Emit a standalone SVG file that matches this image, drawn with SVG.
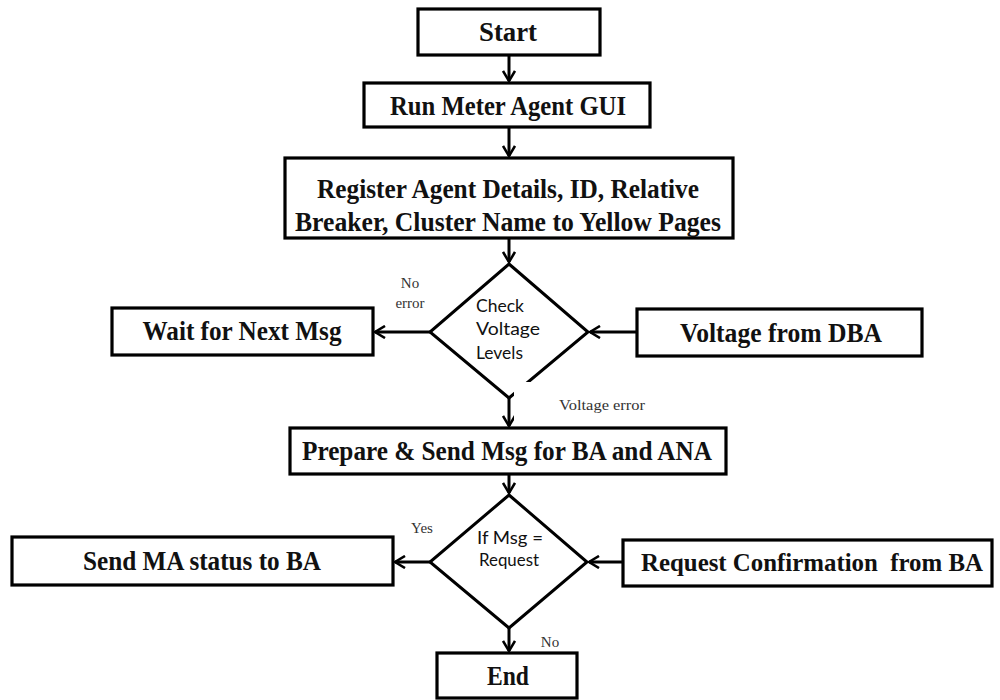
<svg xmlns="http://www.w3.org/2000/svg" width="1000" height="700" viewBox="0 0 1000 700">
  <defs>
    <marker id="arrow" viewBox="0 0 14 14" refX="12" refY="7" markerWidth="14" markerHeight="14" markerUnits="userSpaceOnUse" orient="auto">
      <path d="M2,1 L12,7 L2,13" fill="none" stroke="#000" stroke-width="2.6" stroke-linejoin="miter"/>
    </marker>
  </defs>
  <style>
    .box { fill: #fff; stroke: #000; stroke-width: 3.2; }
    .dia { fill: #fff; stroke: #000; stroke-width: 3; stroke-linejoin: miter; }
    .t { font-family: "Liberation Serif", "Times New Roman", serif; font-weight: bold; font-size: 27px; text-anchor: middle; fill: #111; }
    .t.sm { font-size: 25px; }
    .d { font-family: "Lato", "Open Sans", sans-serif; font-size: 18px; fill: #111; }
    .l { font-family: "Liberation Serif", "Times New Roman", serif; font-size: 15px; fill: #333; text-anchor: middle; }
    .c { fill: none; stroke: #000; stroke-width: 3; marker-end: url(#arrow); }
  </style>
  <rect width="1000" height="700" fill="#fff"/>

  <g id="connectors">
    <line class="c" x1="509" y1="55" x2="509" y2="81"/>
    <line class="c" x1="509" y1="127" x2="509" y2="156"/>
    <line class="c" x1="509" y1="238" x2="509" y2="262"/>
    <line class="c" x1="430" y1="332" x2="375" y2="332"/>
    <line class="c" x1="637" y1="332" x2="590" y2="332"/>
    <line class="c" x1="509" y1="398" x2="509" y2="426"/>
    <line class="c" x1="509" y1="474" x2="509" y2="493"/>
    <line class="c" x1="430" y1="562" x2="395" y2="562"/>
    <line class="c" x1="623" y1="562" x2="589" y2="562"/>
    <line class="c" x1="509" y1="628" x2="509" y2="651"/>
  </g>

  <g id="start">
    <rect class="box" x="418" y="9" width="182" height="46"/>
    <text class="t" x="508" y="41" textLength="58" lengthAdjust="spacingAndGlyphs">Start</text>
  </g>
  <g id="run-gui">
    <rect class="box" x="364" y="83" width="286" height="44"/>
    <text class="t" x="508" y="115" textLength="236" lengthAdjust="spacingAndGlyphs">Run Meter Agent GUI</text>
  </g>
  <g id="register">
    <rect class="box" x="285" y="158" width="448" height="80"/>
    <text class="t" x="508" y="198" textLength="382" lengthAdjust="spacingAndGlyphs">Register Agent Details, ID, Relative</text>
    <text class="t" x="508" y="231" textLength="426" lengthAdjust="spacingAndGlyphs">Breaker, Cluster Name to Yellow Pages</text>
  </g>
  <g id="check-voltage">
    <polygon class="dia" points="509,264 588,332 509,398 430,332"/>
    <text class="d" x="476" y="312" textLength="48" lengthAdjust="spacingAndGlyphs">Check</text>
    <text class="d" x="476" y="335" textLength="64" lengthAdjust="spacingAndGlyphs">Voltage</text>
    <text class="d" x="476" y="359" textLength="47" lengthAdjust="spacingAndGlyphs">Levels</text>
  </g>
  <g id="wait-next">
    <rect class="box" x="112" y="308" width="261" height="47"/>
    <text class="t" x="242" y="340" textLength="199" lengthAdjust="spacingAndGlyphs">Wait for Next Msg</text>
  </g>
  <g id="voltage-dba">
    <rect class="box" x="637" y="309" width="285" height="47"/>
    <text class="t" x="781" y="342" textLength="202" lengthAdjust="spacingAndGlyphs">Voltage from DBA</text>
  </g>
  <g id="labels-check">
    <text class="l" x="410" y="288">No</text>
    <text class="l" x="410" y="308">error</text>
    <rect x="514" y="382" width="172" height="42" fill="#fff"/>
    <text class="l" x="602" y="410" textLength="86" lengthAdjust="spacingAndGlyphs">Voltage error</text>
  </g>
  <g id="prepare-send">
    <rect class="box" x="290" y="428" width="436" height="46"/>
    <text class="t" x="507" y="460" textLength="410" lengthAdjust="spacingAndGlyphs">Prepare &amp; Send Msg for BA and ANA</text>
  </g>
  <g id="if-request">
    <polygon class="dia" points="509,495 587,562 509,628 430,562"/>
    <text class="d" x="510" y="544" text-anchor="middle" textLength="66" lengthAdjust="spacingAndGlyphs">If Msg =</text>
    <text class="d" x="509" y="566" text-anchor="middle" textLength="60" lengthAdjust="spacingAndGlyphs">Request</text>
  </g>
  <g id="send-status">
    <rect class="box" x="12" y="537" width="381" height="48"/>
    <text class="t" x="202" y="570" textLength="238" lengthAdjust="spacingAndGlyphs">Send MA status to BA</text>
  </g>
  <g id="request-confirmation">
    <rect class="box" x="623" y="540" width="369" height="46"/>
    <text class="t sm" x="812" y="571" textLength="342" lengthAdjust="spacingAndGlyphs">Request Confirmation&#160; from BA</text>
  </g>
  <g id="labels-request">
    <text class="l" x="422" y="533">Yes</text>
    <text class="l" x="550" y="647">No</text>
  </g>
  <g id="end">
    <rect class="box" x="437" y="653" width="140" height="45"/>
    <text class="t" x="508" y="685" textLength="42" lengthAdjust="spacingAndGlyphs">End</text>
  </g>
</svg>
